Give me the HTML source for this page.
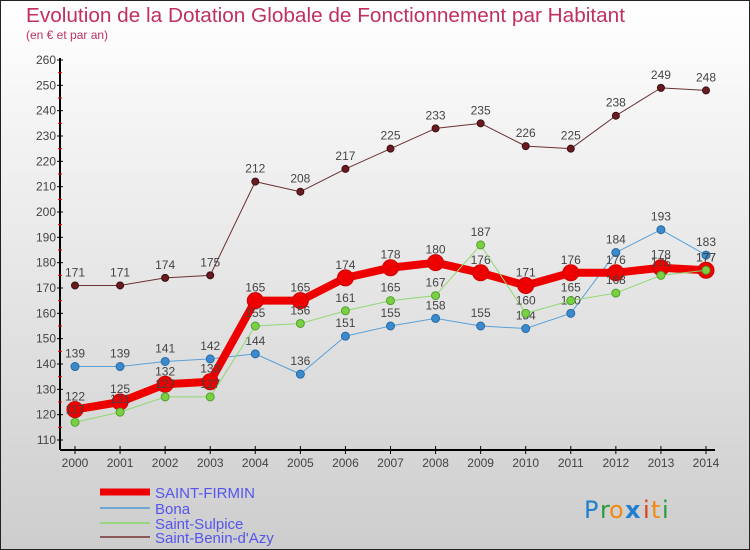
<!DOCTYPE html>
<html><head><meta charset="utf-8"><style>
body{margin:0;width:750px;height:550px;overflow:hidden}
svg{display:block;font-family:"Liberation Sans",sans-serif}
</style></head><body>
<svg id="chart" width="750" height="550">
<defs><linearGradient id="bg" x1="0" y1="0" x2="0" y2="1"><stop offset="0" stop-color="#ffffff"/><stop offset="1" stop-color="#cdcdcd"/></linearGradient></defs>
<rect x="0.5" y="0.5" width="749" height="549" fill="url(#bg)" stroke="#222"/>
<text x="26" y="22" font-size="20" fill="#c0305e" textLength="599" lengthAdjust="spacingAndGlyphs">Evolution de la Dotation Globale de Fonctionnement par Habitant</text>
<text x="26" y="39" font-size="12" fill="#c0305e">(en € et par an)</text>
<g id="axes"></g>
<g id="series"></g>
<g id="legend">
<line x1="100" y1="492" x2="150" y2="492" stroke="#ee0000" stroke-width="7"/>
<text x="155" y="498" font-size="15" fill="#5555ee">SAINT-FIRMIN</text>
<line x1="100" y1="508" x2="150" y2="508" stroke="#6fa8d0" stroke-width="2"/>
<text x="155" y="514" font-size="15" fill="#5555ee">Bona</text>
<line x1="100" y1="523" x2="150" y2="523" stroke="#99d680" stroke-width="2"/>
<text x="155" y="529" font-size="15" fill="#5555ee">Saint-Sulpice</text>
<line x1="100" y1="537" x2="150" y2="537" stroke="#8a5a5a" stroke-width="2"/>
<text x="155" y="543" font-size="15" fill="#5555ee">Saint-Benin-d'Azy</text>
</g>
<g font-size="24" font-family="'DejaVu Sans',sans-serif">
<text x="584" y="518" fill="#1f7fd0">P</text><text x="600" y="518" fill="#2a9a3a">r</text><text x="609" y="518" fill="#f08a10">o</text><text x="625" y="518" fill="#1f7fd0" font-weight="bold">x</text><text x="643" y="518" fill="#e04010">i</text><text x="651" y="518" fill="#f08a10">t</text><text x="662" y="518" fill="#2a9a3a">i</text>
</g>
</svg>
<script>
const years=[2000,2001,2002,2003,2004,2005,2006,2007,2008,2009,2010,2011,2012,2013,2014];
const saintFirmin=[122,125,132,133,165,165,174,178,180,176,171,176,176,178,177];
const bona=[139,139,141,142,144,136,151,155,158,155,154,160,184,193,183];
const saintSulpice=[117,121,127,127,155,156,161,165,167,187,160,165,168,175,177];
const saintBenin=[171,171,174,175,212,208,217,225,233,235,226,225,238,249,248];
const yTicks=[110,120,130,140,150,160,170,180,190,200,210,220,230,240,250,260];
const NS="http://www.w3.org/2000/svg";
function x(i){return 75+i*(706-75)/(years.length-1);}
function y(v){return 440-(v-110)*(380/150);}
function mk(tag,attrs,parent){const e=document.createElementNS(NS,tag);for(const k in attrs)e.setAttribute(k,attrs[k]);parent.appendChild(e);return e;}
const ax=document.getElementById('axes');
let e=mk('line',{x1:60,y1:58,x2:60,y2:450,stroke:'#000','stroke-width':2},ax);


e=mk('line',{x1:60,y1:450,x2:715,y2:450,stroke:'#000','stroke-width':2},ax);


yTicks.forEach((t,i)=>{
  mk('line',{x1:57,x2:63,y1:y(t),y2:y(t),stroke:'#000'},ax);
  if(i<yTicks.length-1)mk('line',{x1:58,x2:62,y1:y(t+5),y2:y(t+5),stroke:'#e00'},ax);
  const tx=mk('text',{x:56,y:y(t)+4,'font-size':12,'text-anchor':'end',fill:'#444'},ax);
  tx.textContent=t;
  
  
});
years.forEach((yr,i)=>{
  mk('line',{x1:x(i),x2:x(i),y1:446,y2:454,stroke:'#000'},ax);
  const tx=mk('text',{x:x(i),y:467,'font-size':12,'text-anchor':'middle',fill:'#444'},ax);
  tx.textContent=yr;
  
  
});
const sg=document.getElementById('series');
function draw(data,name,color,lw,r,fill,stroke){
  const g=mk('g',{},sg);
  
  
  mk('polyline',{points:data.map((v,i)=>x(i)+','+y(v)).join(' '),fill:'none',stroke:color,'stroke-width':lw,'stroke-linejoin':'round'},g);
  data.forEach((v,i)=>{
    const c=mk('circle',{cx:x(i),cy:y(v),r:r,fill:fill,stroke:stroke,'stroke-width':1},g);
    
    
    const t=mk('text',{x:x(i),y:y(v)-9,'font-size':12,'text-anchor':'middle',fill:'#444'},g);
    t.textContent=v;
    
    
  });
}
draw(saintBenin,'saint-benin-d-azy','#6a3030',1,3.5,'#6a1a20','#3a1010');
draw(bona,'bona','#5aa0d8',1,4,'#3a8ad0','#2a6aa0');
draw(saintFirmin,'saint-firmin','#ee0000',8,8,'#ee0000','#cc0000');
draw(saintSulpice,'saint-sulpice','#90d870',1,4,'#7ad040','#50a030');
</script>
</body></html>
